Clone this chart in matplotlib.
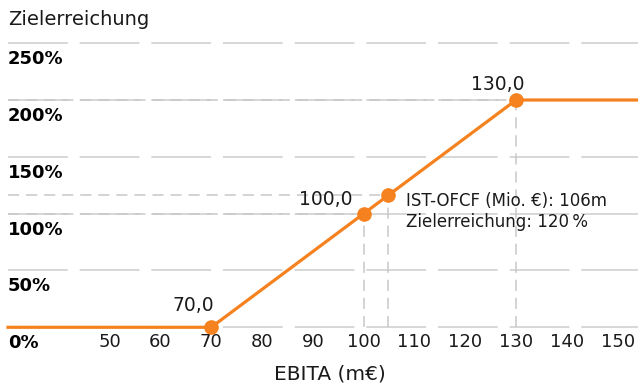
import matplotlib
matplotlib.use("Agg")
from matplotlib import pyplot as plt

plt.rcParams['font.family'] = ['DejaVu Sans']
plt.rcParams['lines.scale_dashes'] = False

# data
curve_x = [30, 70, 130, 154]
curve_y = [0, 0, 200, 200]
pts_x = [70, 100, 130]
pts_y = [0, 100, 200]
pts_labels = ["70,0", "100,0", "130,0"]
ist_x = 104.8
ist_y = 116
ist_text = ["IST-OFCF (Mio. €): 106m", "Zielerreichung: 120\u202f%"]
x_ticks = [50, 60, 70, 80, 90, 100, 110, 120, 130, 140, 150]
y_ticks = [0, 50, 100, 150, 200, 250]
y_ticklabels = ["0%", "50%", "100%", "150%", "200%", "250%"]

orange = '#f5821f'
grid_c = '#d4d4d4'
ref_c = '#c8c8c8'
txt_c = '#1a1a1a'

fig = plt.figure(figsize=(6.38, 3.85), dpi=100)
ax = fig.add_axes([8 / 638, 0.1499, 1 - 8 / 638, 0.7527])
ax.set_xlim(30, 154)
ax.set_ylim(0, 255)
for s in ax.spines.values():
    s.set_visible(False)

# grid
for v in y_ticks:
    ax.plot([30, 154], [v, v], color=grid_c, lw=1.3, dashes=(43, 8.6),
            clip_on=False, zorder=1)

# reference lines
for px, py in list(zip(pts_x[1:], pts_y[1:])) + [(ist_x, ist_y)]:
    ax.plot([px, px], [0, py], color=ref_c, lw=1.1, dashes=(8, 5), zorder=2)
    ax.plot([30, px], [py, py], color=ref_c, lw=1.1, dashes=(8, 5), zorder=2)

ax.plot(curve_x, curve_y, color=orange, lw=2.3, clip_on=False, zorder=3)
ax.plot(pts_x + [ist_x], pts_y + [ist_y], 'o', color=orange, ms=9.5,
        clip_on=False, zorder=4)

offsets = [(-13, 16, 'center'), (-8, 10, 'right'), (-13.5, 11, 'center')]
for x, y, lab, (dx, dy, ha) in zip(pts_x, pts_y, pts_labels, offsets):
    ax.annotate(lab, (x, y), xytext=(dx, dy), textcoords='offset points',
                ha=ha, va='center', fontsize=13.5, color=txt_c)

ax.annotate(ist_text[0], (ist_x, ist_y), xytext=(13, -4.3), textcoords='offset points',
            ha='left', va='center', fontsize=12, color=txt_c)
ax.annotate(ist_text[1], (ist_x, ist_y), xytext=(13, -19.4), textcoords='offset points',
            ha='left', va='center', fontsize=12, color=txt_c)

# y labels below the grid lines
for v, lab in zip(y_ticks, y_ticklabels):
    ax.annotate(lab, (30, v), xytext=(0, -5), textcoords='offset points',
                ha='left', va='top', fontsize=13, fontweight='bold', color='black')
ax.set_yticks([])

ax.set_xticks(x_ticks)
ax.set_xticklabels([str(t) for t in x_ticks], fontsize=13, color=txt_c)
ax.tick_params(axis='x', length=0, pad=4)

fig.text(8 / 638, 1 - 19.5 / 385, "Zielerreichung", ha='left', va='center',
         fontsize=14, color=txt_c)
fig.text(330 / 638, 1 - 374 / 385, "EBITA (m€)", ha='center', va='center',
         fontsize=14.5, color=txt_c)

fig.savefig("out.png", dpi=100)
